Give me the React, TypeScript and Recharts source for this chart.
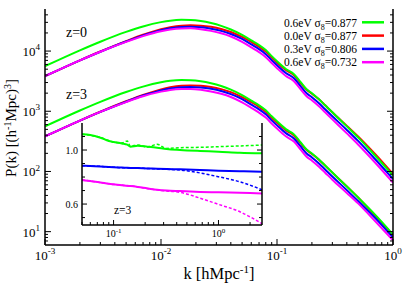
import React from 'react'
import { LineChart, Line, XAxis, YAxis, CartesianGrid } from 'recharts'

const SERIF = '"Liberation Serif", "DejaVu Serif", serif'

// main panel: P(k) for four models, z=0 and z=3
const kMain = [0.001, 0.002, 0.003, 0.005, 0.007, 0.01, 0.012, 0.015, 0.018, 0.022, 0.027, 0.033, 0.04, 0.05, 0.06, 0.07, 0.08, 0.09, 0.1, 0.12, 0.14, 0.16, 0.18, 0.2, 0.23, 0.26, 0.3, 0.4, 0.5, 0.7, 1.0]

const g0 = [5610, 10290, 14310, 20840, 25640, 30250, 32040, 33040, 32790, 31550, 29220, 26240, 22860, 18580, 15040, 12560, 10370, 8240, 6800, 5000, 4130, 3040, 2320, 1990, 1580, 1256, 960, 561, 368, 184, 85.6]
const r0 = [3822, 7010, 9825, 14640, 18650, 23120, 24960, 26440, 26750, 26440, 25250, 23300, 20770, 17210, 14200, 11860, 9790, 7780, 6420, 4810, 3970, 2920, 2280, 1950, 1580, 1256, 960, 572, 382, 195, 90.6]
const b0 = [3822, 7010, 9750, 14420, 18230, 22250, 23930, 25160, 25350, 24870, 23570, 21660, 19230, 15930, 12900, 10770, 8890, 7060, 5830, 4290, 3540, 2600, 1990, 1707, 1356, 1077, 824, 490, 322, 161, 74.8]
const m0 = [3822, 7010, 9750, 14200, 17740, 21410, 22860, 23750, 23840, 23120, 21660, 19760, 17470, 14200, 11500, 9600, 7930, 6300, 5200, 3820, 3160, 2320, 1774, 1521, 1208, 960, 734, 429, 281, 141, 65.4]

const g3 = [561, 1029, 1431, 2084, 2564, 3025, 3204, 3304, 3279, 3155, 2922, 2624, 2286, 1858, 1504, 1256, 1037, 824, 680, 500, 413, 304, 232, 199, 158, 125.6, 96, 56.1, 36.8, 19.2, 9.0]
const r3 = [382, 701, 983, 1464, 1865, 2312, 2496, 2644, 2675, 2644, 2525, 2330, 2077, 1721, 1420, 1186, 979, 778, 642, 481, 397, 292, 228, 195, 157, 125, 95.5, 56.5, 37.0, 18.6, 8.7]
const b3 = [382, 701, 975, 1442, 1823, 2225, 2393, 2516, 2535, 2487, 2357, 2166, 1923, 1593, 1290, 1077, 889, 706, 583, 429, 354, 260, 199, 171, 136, 108, 82.4, 49, 32.2, 17.0, 8.0]
const m3 = [382, 701, 975, 1420, 1774, 2120, 2260, 2340, 2350, 2280, 2130, 1950, 1725, 1405, 1140, 950, 785, 624, 515, 380, 314, 231, 176, 151, 120, 95.5, 73, 44, 29.5, 15.0, 7.2]

const xTicks = [0.001, 0.002, 0.003, 0.004, 0.005, 0.006, 0.007, 0.008, 0.009, 0.01, 0.02, 0.03, 0.04, 0.05, 0.06, 0.07, 0.08, 0.09, 0.1, 0.2, 0.3, 0.4, 0.5, 0.6, 0.7, 0.8, 0.9, 1]
const yTicks = [7, 8, 9, 10, 20, 30, 40, 50, 60, 70, 80, 90, 100, 200, 300, 400, 500, 600, 700, 800, 900, 1000, 2000, 3000, 4000, 5000, 6000, 7000, 8000, 9000, 10000, 20000, 30000, 40000]

// inset: ratios at z=3 (solid / dashed)
const kInset = [0.05, 0.06, 0.075, 0.09, 0.1, 0.12, 0.135, 0.145, 0.17, 0.21, 0.26, 0.32, 0.43, 0.67, 1.0, 1.6, 2.6]
const greenSolid = [1.116, 1.111, 1.091, 1.067, 1.06, 1.049, 1.04, 1.025, 1.032, 1.025, 1.017, 1.007, 1.0, 0.993, 0.988, 0.98, 0.976]
const greenDashed = [1.118, 1.108, 1.093, 1.07, 1.058, 1.052, 1.067, 1.028, 1.038, 1.022, 1.042, 1.012, 1.017, 1.02, 1.025, 1.03, 1.037]
const blueSolid = [0.884, 0.882, 0.878, 0.874, 0.872, 0.87, 0.868, 0.867, 0.866, 0.864, 0.861, 0.859, 0.857, 0.852, 0.847, 0.843, 0.84]
const blueDashed = [0.884, 0.881, 0.879, 0.873, 0.873, 0.869, 0.869, 0.866, 0.866, 0.863, 0.86, 0.857, 0.852, 0.83, 0.802, 0.765, 0.706]
const magentaSolid = [0.778, 0.77, 0.76, 0.75, 0.746, 0.74, 0.735, 0.733, 0.727, 0.716, 0.706, 0.7, 0.696, 0.69, 0.687, 0.683, 0.679]
const magentaDashed = [0.778, 0.771, 0.759, 0.751, 0.745, 0.741, 0.734, 0.734, 0.726, 0.716, 0.705, 0.697, 0.687, 0.643, 0.598, 0.543, 0.455]

const insetXTicks = [0.05, 0.06, 0.07, 0.08, 0.09, 0.1, 0.2, 0.3, 0.4, 0.5, 0.6, 0.7, 0.8, 0.9, 1, 2]
const insetYTicks = [0.5, 0.6, 0.7, 0.8, 0.9, 1.0, 1.1]
const insetYLabels = [0.6, 1.0]

const legendRows = [
  { mass: '0.6eV', s8: '0.877', color: '#00ff00' },
  { mass: '0.0eV', s8: '0.877', color: '#ff0000' },
  { mass: '0.3eV', s8: '0.806', color: '#0000ff' },
  { mass: '0.6eV', s8: '0.732', color: '#ff00ff' },
]

const mainData = kMain.map((k, i) => ({ k, g0: g0[i], r0: r0[i], b0: b0[i], m0: m0[i], g3: g3[i], r3: r3[i], b3: b3[i], m3: m3[i] }))
const insetData = kInset.map((k, i) => ({
  k, gs: greenSolid[i], gd: greenDashed[i], bs: blueSolid[i], bd: blueDashed[i], ms: magentaSolid[i], md: magentaDashed[i],
}))

const isDecade = (v: number) => Math.abs(Math.log10(v) - Math.round(Math.log10(v))) < 1e-6

function Pow10({ x, y, v, size, anchor }: any) {
  const e = Math.round(Math.log10(v))
  return (
    <text x={x} y={y} textAnchor={anchor} fontFamily={SERIF} fontSize={size} fill="#000">
      10<tspan dy={-size * 0.45} fontSize={size * 0.7}>{e}</tspan>
    </text>
  )
}

const mkXTick = (side: 'top' | 'bottom', major: number, minor: number, size: number, gap: number, isMajor: (v: number) => boolean) => (p: any) => {
  const big = isMajor(p.payload.value)
  const len = big ? major : minor
  const d = side === 'bottom' ? -1 : 1
  return (
    <g>
      <line x1={p.x} x2={p.x} y1={p.y} y2={p.y + d * len} stroke="#000" strokeWidth={1} />
      {side === 'bottom' && big && <Pow10 x={p.x} y={p.y + gap} v={p.payload.value} size={size} anchor="middle" />}
    </g>
  )
}

const mkYTick = (side: 'left' | 'right', major: number, minor: number, isMajor: (v: number) => boolean, label?: (p: any) => any) => (p: any) => {
  const big = isMajor(p.payload.value)
  const len = big ? major : minor
  const d = side === 'left' ? 1 : -1
  return (
    <g>
      <line x1={p.x} x2={p.x + d * len} y1={p.y} y2={p.y} stroke="#000" strokeWidth={1} />
      {side === 'left' && big && label && label(p)}
    </g>
  )
}

const mainYLabel = (p: any) => <Pow10 x={p.x - 5} y={p.y + 5} v={p.payload.value} size={13} anchor="end" />
const insetIsMajorY = (v: number) => insetYLabels.some((l) => Math.abs(l - v) < 1e-6)
const insetYLabel = (p: any) => (
  <text x={p.x - 4} y={p.y + 3.5} textAnchor="end" fontFamily={SERIF} fontSize={10} fill="#000">{p.payload.value.toFixed(1)}</text>
)

const frame = { stroke: '#000', strokeWidth: 1.5 }

export default function App() {
  return (
    <div style={{ position: 'relative', width: 407, height: 285, background: '#fff' }}>
      <style>{'body{margin:0}'}</style>
      <LineChart width={407} height={285} data={mainData} margin={{ top: 9, right: 0, bottom: 0, left: 0 }}>
        <XAxis dataKey="k" type="number" scale="log" domain={[0.001, 1]} ticks={xTicks} interval={0} allowDataOverflow
          tickSize={0} tickMargin={0} height={40} axisLine={frame} tick={mkXTick('bottom', 6, 3, 13, 15, isDecade)} />
        <XAxis xAxisId="top" orientation="top" dataKey="k" type="number" scale="log" domain={[0.001, 1]} ticks={xTicks} interval={0} allowDataOverflow
          tickSize={0} tickMargin={0} height={0} axisLine={frame} tick={mkXTick('top', 6, 3, 13, 15, isDecade)} />
        <YAxis type="number" scale="log" domain={[6, 50000]} ticks={yTicks} interval={0} allowDataOverflow
          tickSize={0} tickMargin={0} width={45} axisLine={frame} tick={mkYTick('left', 6, 3, isDecade, mainYLabel)} />
        <YAxis yAxisId="right" orientation="right" type="number" scale="log" domain={[6, 50000]} ticks={yTicks} interval={0} allowDataOverflow
          tickSize={0} tickMargin={0} width={14} axisLine={frame} tick={mkYTick('right', 6, 3, isDecade)} />
        <Line type="monotone" dataKey="r0" stroke="#ff0000" strokeWidth={2} dot={false} isAnimationActive={false} />
        <Line type="monotone" dataKey="b0" stroke="#0000ff" strokeWidth={2} dot={false} isAnimationActive={false} />
        <Line type="monotone" dataKey="m0" stroke="#ff00ff" strokeWidth={2} dot={false} isAnimationActive={false} />
        <Line type="monotone" dataKey="g0" stroke="#00ff00" strokeWidth={2} dot={false} isAnimationActive={false} />
        <Line type="monotone" dataKey="r3" stroke="#ff0000" strokeWidth={2} dot={false} isAnimationActive={false} />
        <Line type="monotone" dataKey="b3" stroke="#0000ff" strokeWidth={2} dot={false} isAnimationActive={false} />
        <Line type="monotone" dataKey="m3" stroke="#ff00ff" strokeWidth={2} dot={false} isAnimationActive={false} />
        <Line type="monotone" dataKey="g3" stroke="#00ff00" strokeWidth={2} dot={false} isAnimationActive={false} />
      </LineChart>

      <div style={{ position: 'absolute', left: 52, top: 113 }}>
        <LineChart width={220} height={135} data={insetData} margin={{ top: 10, right: 0, bottom: 0, left: 0 }}>
          <CartesianGrid horizontal={false} vertical={false} fill="#fff" />
          <XAxis dataKey="k" type="number" scale="log" domain={[0.05, 2.6]} ticks={insetXTicks} interval={0} allowDataOverflow
            tickSize={0} tickMargin={0} height={23} axisLine={frame} tick={mkXTick('bottom', 5, 3, 10, 12, isDecade)} />
          <XAxis xAxisId="top" orientation="top" dataKey="k" type="number" scale="log" domain={[0.05, 2.6]} ticks={insetXTicks} interval={0} allowDataOverflow
            tickSize={0} tickMargin={0} height={0} axisLine={frame} tick={mkXTick('top', 5, 3, 10, 12, isDecade)} />
          <YAxis type="number" domain={[0.445, 1.2]} ticks={insetYTicks} interval={0} allowDataOverflow
            tickSize={0} tickMargin={0} width={30} axisLine={frame} tick={mkYTick('left', 5, 3, insetIsMajorY, insetYLabel)} />
          <YAxis yAxisId="right" orientation="right" type="number" domain={[0.445, 1.2]} ticks={insetYTicks} interval={0} allowDataOverflow
            tickSize={0} tickMargin={0} width={10} axisLine={frame} tick={mkYTick('right', 5, 3, insetIsMajorY)} />
          <Line type="monotone" dataKey="gd" stroke="#00ff00" strokeWidth={1.5} strokeDasharray="3 2" dot={false} isAnimationActive={false} />
          <Line type="monotone" dataKey="bd" stroke="#0000ff" strokeWidth={1.5} strokeDasharray="3 2" dot={false} isAnimationActive={false} />
          <Line type="monotone" dataKey="md" stroke="#ff00ff" strokeWidth={1.5} strokeDasharray="3 2" dot={false} isAnimationActive={false} />
          <Line type="monotone" dataKey="gs" stroke="#00ff00" strokeWidth={2} dot={false} isAnimationActive={false} />
          <Line type="monotone" dataKey="bs" stroke="#0000ff" strokeWidth={2} dot={false} isAnimationActive={false} />
          <Line type="monotone" dataKey="ms" stroke="#ff00ff" strokeWidth={2} dot={false} isAnimationActive={false} />
        </LineChart>
      </div>

      <svg width={407} height={285} style={{ position: 'absolute', left: 0, top: 0, pointerEvents: 'none' }}>
        <g fontFamily={SERIF} fill="#000">
          <text x={66} y={37} fontSize={14}>z=0</text>
          <text x={66} y={99} fontSize={14}>z=3</text>
          <text x={114} y={214} fontSize={11.5}>z=3</text>
          <text x={219} y={279} fontSize={16.5} textAnchor="middle">
            k [hMpc<tspan dy={-6} fontSize={11}>-1</tspan><tspan dy={6}>]</tspan>
          </text>
          <text transform="translate(16,128) rotate(-90)" fontSize={15} textAnchor="middle">
            P(k) [(h<tspan dy={-5} fontSize={10}>-1</tspan><tspan dy={5}>Mpc)</tspan><tspan dy={-5} fontSize={10}>3</tspan><tspan dy={5}>]</tspan>
          </text>
          {legendRows.map((r, i) => (
            <g key={i}>
              <text x={357} y={26.5 + i * 13.3} fontSize={11.5} textAnchor="end">
                {r.mass} σ<tspan dy={3} fontSize={8}>8</tspan><tspan dy={-3}>={r.s8}</tspan>
              </text>
              <line x1={362} x2={384} y1={22.3 + i * 13.3} y2={22.3 + i * 13.3} stroke={r.color} strokeWidth={2.5} />
            </g>
          ))}
        </g>
      </svg>
    </div>
  )
}
